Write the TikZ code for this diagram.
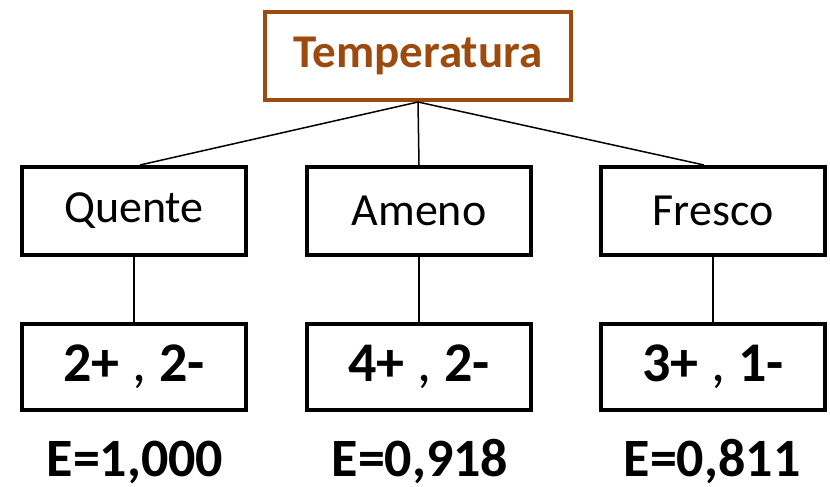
\documentclass[tikz,border=0pt]{standalone}
\usepackage{fontspec}
\setmainfont{Carlito}
\usetikzlibrary{calc}
\definecolor{rust}{RGB}{156,74,14}
\tikzset{
  valbox/.style={draw=black, line width=4pt, minimum width=224pt, minimum height=88pt, inner sep=0pt, font=\fontsize{46}{50}\selectfont},
  rootbox/.style={draw=rust, line width=4pt, minimum width=306pt, minimum height=88pt, inner sep=0pt, text=rust, font=\fontsize{47}{50}\selectfont\bfseries},
  countbox/.style={valbox, minimum height=86pt, font=\fontsize{56}{60}\selectfont\bfseries},
  entropy/.style={inner sep=0pt, font=\fontsize{54}{58}\selectfont\bfseries},
  link/.style={draw=black, line width=1.5pt}
}
\begin{document}
\begin{tikzpicture}[x=1pt, y=-1pt]
  \useasboundingbox (0,0) rectangle (830,487);
  % root attribute
  \node[rootbox] (root) at (418,56) {Temperatura};
  % attribute values
  \node[valbox] (quente) at (134,211) {Quente};
  \node[valbox] (ameno) at (419,211) {Ameno};
  \node[valbox] (fresco) at (713,211) {Fresco};
  % class counts
  \node[countbox] (cq) at (134,367) {2+ {\mdseries ,} 2-};
  \node[countbox] (ca) at (419,367) {4+ {\mdseries ,} 2-};
  \node[countbox] (cf) at (713,367) {3+ {\mdseries ,} 1-};
  % entropies
  \node[entropy] (eq) at (135,462) {E=1,000};
  \node[entropy] (ea) at (420,462) {E=0,918};
  \node[entropy] (ef) at (712,462) {E=0,811};
  % branches
  \draw[link] (root.south) -- ($(quente.north)+(6,0)$);
  \draw[link] (root.south) -- (ameno.north);
  \draw[link] (root.south) -- ($(fresco.north)+(-9,0)$);
  \draw[link] (quente.south) -- (cq.north);
  \draw[link] (ameno.south) -- (ca.north);
  \draw[link] (fresco.south) -- (cf.north);
\end{tikzpicture}
\end{document}
